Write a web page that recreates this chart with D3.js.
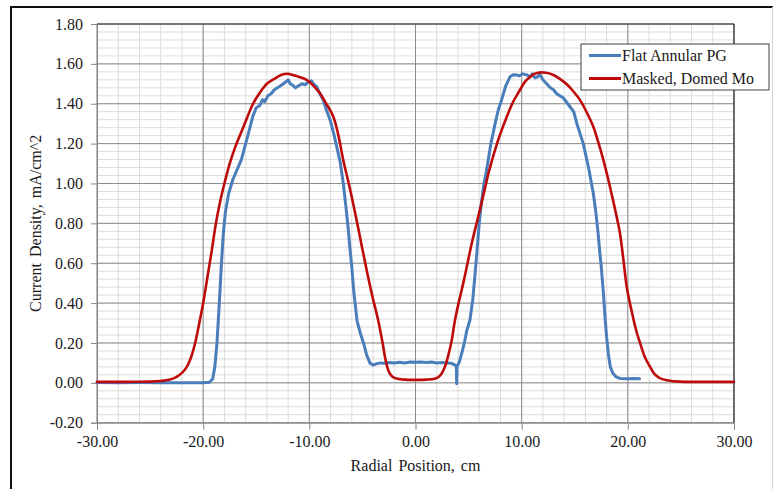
<!DOCTYPE html>
<html>
<head>
<meta charset="utf-8">
<script src="https://cdn.jsdelivr.net/npm/d3@7"></script>
<style>
  html, body { margin: 0; padding: 0; background: #fff; }
  svg { display: block; }
  text { font-family: "Liberation Serif", "Times New Roman", serif; fill: #1a1a1a; }
</style>
</head>
<body>
<svg id="chart" width="775" height="489"></svg>
<script>
// Axis ranges and tick labels
const xTicks = [-30, -20, -10, 0, 10, 20, 30];
const yTicks = [-0.2, 0, 0.2, 0.4, 0.6, 0.8, 1.0, 1.2, 1.4, 1.6, 1.8];
const seriesNames = ["Flat Annular PG", "Masked, Domed Mo"];

// Flat Annular PG: [radial position cm, current density mA/cm^2]
const flatAnnularPG = [
  [-30, 0.002], [-28, 0.001], [-26, 0.002], [-24, 0.001], [-22, 0.0], [-20, 0.001],
  [-19.4, 0.003], [-19.1, 0.02], [-18.9, 0.08], [-18.7, 0.2], [-18.5, 0.38], [-18.3, 0.58],
  [-18.1, 0.75], [-17.9, 0.86], [-17.6, 0.95], [-17.2, 1.02], [-16.8, 1.07], [-16.4, 1.12],
  [-16.0, 1.2], [-15.6, 1.28], [-15.3, 1.34], [-15.0, 1.38], [-14.7, 1.39], [-14.4, 1.42],
  [-14.2, 1.41], [-13.9, 1.44], [-13.6, 1.45], [-13.3, 1.47], [-13.0, 1.48], [-12.7, 1.49],
  [-12.45, 1.5], [-12.2, 1.51], [-12.0, 1.52], [-11.8, 1.5], [-11.5, 1.49], [-11.3, 1.48],
  [-11.0, 1.49], [-10.7, 1.5], [-10.4, 1.495], [-10.1, 1.51], [-9.8, 1.515], [-9.6, 1.5],
  [-9.3, 1.485], [-9.0, 1.45], [-8.7, 1.42], [-8.4, 1.37], [-8.05, 1.32], [-7.7, 1.25],
  [-7.4, 1.18], [-7.1, 1.11], [-6.8, 1.0], [-6.55, 0.88], [-6.35, 0.78], [-6.15, 0.66],
  [-6.0, 0.58], [-5.8, 0.45], [-5.5, 0.31], [-5.2, 0.25], [-4.9, 0.2], [-4.6, 0.14],
  [-4.3, 0.1], [-4.0, 0.089], [-3.7, 0.095], [-3.3, 0.1], [-3.0, 0.098], [-2.5, 0.102],
  [-2.0, 0.1], [-1.5, 0.103], [-1.0, 0.1], [-0.5, 0.104], [0, 0.103], [0.5, 0.105],
  [1.0, 0.102], [1.5, 0.104], [2.0, 0.1], [2.5, 0.102], [3.0, 0.1], [3.4, 0.098],
  [3.7, 0.09], [3.85, 0.085], [3.88, -0.005], [3.92, 0.085], [4.1, 0.1], [4.35, 0.147],
  [4.6, 0.2], [4.82, 0.26], [5.13, 0.315], [5.4, 0.42], [5.7, 0.6], [6.0, 0.8],
  [6.2, 0.9], [6.45, 1.0], [6.7, 1.067], [7.1, 1.2], [7.5, 1.3], [7.8, 1.37],
  [8.1, 1.418], [8.5, 1.49], [8.9, 1.535], [9.2, 1.545], [9.5, 1.544], [9.8, 1.54],
  [10.1, 1.55], [10.5, 1.544], [10.8, 1.535], [11.0, 1.55], [11.25, 1.53], [11.5, 1.535],
  [11.7, 1.548], [12.0, 1.52], [12.35, 1.5], [12.7, 1.48], [13.0, 1.47], [13.3, 1.45],
  [13.6, 1.44], [13.9, 1.43], [14.2, 1.41], [14.55, 1.385], [14.9, 1.36], [15.2, 1.3],
  [15.5, 1.25], [15.8, 1.2], [16.05, 1.14], [16.3, 1.08], [16.75, 0.95], [17.0, 0.85],
  [17.2, 0.75], [17.35, 0.66], [17.5, 0.58], [17.7, 0.45], [17.85, 0.33], [18.0, 0.23],
  [18.16, 0.147], [18.35, 0.08], [18.6, 0.047], [18.9, 0.03], [19.26, 0.022], [20.0, 0.02],
  [20.6, 0.022], [21.1, 0.02]
];

// Masked, Domed Mo: [radial position cm, current density mA/cm^2]
const maskedDomedMo = [
  [-30, 0.005], [-27, 0.005], [-25, 0.006], [-24, 0.009], [-23.2, 0.015], [-22.5, 0.03],
  [-22, 0.05], [-21.6, 0.075], [-21.2, 0.12], [-20.8, 0.19], [-20.4, 0.29], [-20, 0.4],
  [-19.6, 0.53], [-19.2, 0.66], [-18.8, 0.8], [-18.4, 0.91], [-18, 1.0], [-17.5, 1.1],
  [-17, 1.18], [-16.2, 1.285], [-15.3, 1.4], [-14.6, 1.46], [-14, 1.5], [-13.3, 1.525],
  [-12.6, 1.545], [-12, 1.55], [-11.3, 1.54], [-10.25, 1.52], [-9.6, 1.49], [-9, 1.452],
  [-8.4, 1.4], [-7.74, 1.335], [-7.3, 1.25], [-6.8, 1.117], [-6.2, 0.98], [-5.6, 0.83],
  [-5.0, 0.67], [-4.5, 0.54], [-4.0, 0.42], [-3.5, 0.31], [-3.1, 0.2], [-2.8, 0.11],
  [-2.5, 0.055], [-2.2, 0.032], [-1.8, 0.022], [-1, 0.016], [0, 0.015], [1, 0.016],
  [1.8, 0.02], [2.2, 0.03], [2.5, 0.05], [2.8, 0.085], [3.1, 0.14], [3.4, 0.21],
  [3.72, 0.315], [4.1, 0.41], [4.5, 0.5], [4.9, 0.6], [5.3, 0.7], [5.8, 0.81],
  [6.3, 0.92], [7.0, 1.077], [7.8, 1.22], [8.6, 1.335], [9.2, 1.41], [9.84, 1.469],
  [10.3, 1.51], [10.8, 1.535], [11.2, 1.55], [11.7, 1.557], [12.3, 1.555], [13, 1.544],
  [13.6, 1.525], [14.2, 1.5], [14.9, 1.46], [15.5, 1.418], [16.1, 1.36], [16.75, 1.285],
  [17.2, 1.21], [17.7, 1.117], [18.2, 1.01], [18.6, 0.917], [19.0, 0.82], [19.26, 0.75],
  [19.6, 0.61], [19.9, 0.48], [20.4, 0.35], [20.8, 0.26], [21.15, 0.2], [21.6, 0.13],
  [22.1, 0.08], [22.5, 0.045], [23, 0.024], [23.8, 0.012], [24.9, 0.006], [27, 0.005],
  [30, 0.005]
];

const colors = ["#4a7ebb", "#be0a0a"];

const svg = d3.select("#chart");
const W = 775, H = 489;
const plot = { left: 97, right: 734, top: 24, bottom: 422.7 };

svg.append("rect").attr("width", W).attr("height", H).attr("fill", "#fff");

const x = d3.scaleLinear().domain([-30, 30]).range([plot.left, plot.right]);
const y = d3.scaleLinear().domain([-0.2, 1.8]).range([plot.bottom, plot.top]);

// Minor gridlines
const xMinor = d3.range(-30, 30.001, 2);
const yMinor = d3.range(-0.2, 1.8001, 0.04);
const grid = svg.append("g");
grid.selectAll(".xm").data(xMinor).join("line")
  .attr("x1", d => x(d)).attr("x2", d => x(d))
  .attr("y1", plot.top).attr("y2", plot.bottom)
  .attr("stroke", "#dcdcdc").attr("stroke-width", 1);
grid.selectAll(".ym").data(yMinor).join("line")
  .attr("x1", plot.left).attr("x2", plot.right)
  .attr("y1", d => y(d)).attr("y2", d => y(d))
  .attr("stroke", "#dcdcdc").attr("stroke-width", 1);

// Major gridlines
grid.selectAll(".xM").data(xTicks).join("line")
  .attr("x1", d => x(d)).attr("x2", d => x(d))
  .attr("y1", plot.top).attr("y2", plot.bottom)
  .attr("stroke", "#8c8c8c").attr("stroke-width", 1);
grid.selectAll(".yM").data(yTicks).join("line")
  .attr("x1", plot.left).attr("x2", plot.right)
  .attr("y1", d => y(d)).attr("y2", d => y(d))
  .attr("stroke", "#8c8c8c").attr("stroke-width", 1);

// Plot area top and right edges
svg.append("line").attr("x1", plot.left).attr("x2", plot.right)
  .attr("y1", plot.top).attr("y2", plot.top).attr("stroke", "#333").attr("stroke-width", 1.2);
svg.append("line").attr("x1", plot.right).attr("x2", plot.right)
  .attr("y1", plot.top).attr("y2", plot.bottom).attr("stroke", "#333").attr("stroke-width", 1.2);

// Axes (plain hyphen for negative labels)
const fmt = d => d3.format(".2f")(d).replace("\u2212", "-");
const xAxis = svg.append("g").attr("transform", `translate(0,${plot.bottom})`)
  .call(d3.axisBottom(x).tickValues(xTicks).tickFormat(fmt).tickSizeOuter(0).tickSize(7).tickPadding(6));
const yAxis = svg.append("g").attr("transform", `translate(${plot.left},0)`)
  .call(d3.axisLeft(y).tickValues(yTicks).tickFormat(fmt).tickSizeOuter(0).tickSize(6).tickPadding(8));
[xAxis, yAxis].forEach(a => {
  a.select(".domain").attr("stroke", "#868686");
  a.selectAll(".tick line").attr("stroke", "#868686");
  a.selectAll("text").attr("font-size", 16).attr("font-family", "Liberation Serif, serif").attr("fill", "#1a1a1a");
});

// Axis titles
svg.append("text").attr("x", (plot.left + plot.right) / 2).attr("y", 471)
  .attr("text-anchor", "middle").attr("font-size", 16)
  .attr("word-spacing", 2)
  .text("Radial Position, cm");
svg.append("text")
  .attr("transform", `translate(41,${(plot.top + plot.bottom) / 2}) rotate(-90)`)
  .attr("text-anchor", "middle").attr("font-size", 16)
  .attr("word-spacing", 2)
  .text("Current Density, mA/cm^2");

// Series lines
const line = d3.line().x(d => x(d[0])).y(d => y(d[1]));
svg.append("path").datum(flatAnnularPG)
  .attr("d", line.curve(d3.curveLinear))
  .attr("fill", "none").attr("stroke", colors[0]).attr("stroke-width", 3)
  .attr("stroke-linejoin", "round").attr("stroke-linecap", "round");
svg.append("path").datum(maskedDomedMo)
  .attr("d", line.curve(d3.curveCatmullRom))
  .attr("fill", "none").attr("stroke", colors[1]).attr("stroke-width", 2.6)
  .attr("stroke-linejoin", "round").attr("stroke-linecap", "round");

// Legend
const lg = svg.append("g");
lg.append("rect").attr("x", 581).attr("y", 44).attr("width", 188).attr("height", 46)
  .attr("fill", "#fff").attr("stroke", "#404040").attr("stroke-width", 1);
seriesNames.forEach((name, i) => {
  const cy = 55.5 + i * 23;
  lg.append("line").attr("x1", 589).attr("x2", 621).attr("y1", cy).attr("y2", cy)
    .attr("stroke", colors[i]).attr("stroke-width", 3);
  lg.append("text").attr("x", 622).attr("y", cy + 5.5).attr("font-size", 16).text(name);
});

// Outer frame
svg.append("line").attr("x1", 11).attr("x2", 11).attr("y1", 7).attr("y2", H)
  .attr("stroke", "#111").attr("stroke-width", 2);
svg.append("line").attr("x1", 10).attr("x2", 773).attr("y1", 7).attr("y2", 7)
  .attr("stroke", "#111").attr("stroke-width", 2);
svg.append("line").attr("x1", 772.5).attr("x2", 772.5).attr("y1", 7).attr("y2", H)
  .attr("stroke", "#d4d4d4").attr("stroke-width", 1);
</script>
</body>
</html>
